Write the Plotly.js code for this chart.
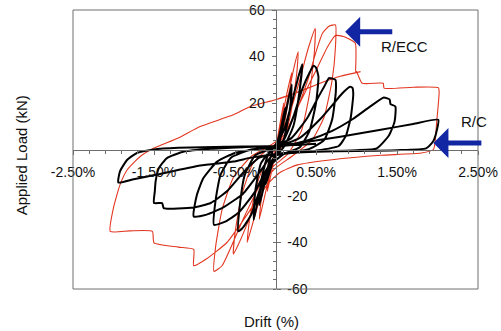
<!DOCTYPE html>
<html>
<head>
<meta charset="utf-8">
<script src="https://cdn.plot.ly/plotly-3.0.1.min.js"></script>
<style>html,body{margin:0;padding:0;background:#fff;}#chart{width:501px;height:331px;}</style>
</head>
<body>
<div id="chart"></div>
<script>
// R/ECC specimen hysteresis: [drift %, load kN]
var eccPoints = [
  [0,0],
  [0.05,10],[0.1,20],[0.08,14],[0.02,2],[-0.04,-8],[-0.1,-18],[-0.08,-12],[-0.02,-2],
  [0.06,10],[0.14,24],[0.2,33],[0.17,24],[0.08,6],[-0.04,-6],[-0.12,-18],[-0.2,-30],[-0.17,-20],[-0.08,-5],
  [0.04,6],[0.14,20],[0.22,34],[0.28,42],[0.26,32],[0.18,14],[0.06,0],[-0.08,-8],[-0.2,-22],[-0.3,-34],[-0.35,-40],[-0.32,-30],[-0.22,-14],[-0.08,-2],
  [0.05,4],[0.18,16],[0.3,30],[0.4,43],[0.49,52],[0.48,42],[0.42,24],[0.32,8],[0.15,-2],[-0.05,-8],[-0.2,-18],[-0.35,-32],[-0.46,-41],[-0.52,-45],[-0.5,-36],[-0.42,-20],[-0.28,-6],[-0.1,0],
  [0.1,5],[0.25,16],[0.4,30],[0.5,42],[0.58,50],[0.66,53],[0.74,53.6],[0.74,44],[0.7,30],[0.6,14],[0.45,4],[0.2,-3],[0,-8],[-0.2,-16],[-0.4,-30],[-0.55,-42],[-0.66,-50],[-0.76,-52.4],[-0.74,-42],[-0.66,-26],[-0.52,-12],[-0.3,-3],[-0.1,1],
  [0.1,6],[0.3,20],[0.5,34],[0.64,44],[0.74,49],[0.84,48.6],[0.985,45.7],[0.99,33],[1.0,33.5],[1.07,28.5],[1.33,28.5],[1.34,26.4],[1.7,26.8],[2.01,26.6],[2.02,25],[1.99,12],[1.95,0],[1.8,-1.5],[1.3,-2.5],[0.7,-4.4],[0.27,-6.6],[0.05,-10],[-0.1,-15],[-0.35,-28],[-0.6,-40],[-0.85,-47],[-1.01,-50],[-1.01,-43],[-1.2,-42],[-1.5,-40.2],[-1.52,-35.2],[-1.8,-35],[-2.04,-35.2],[-2.0,-25],[-1.92,-15.2],[-1.83,-8.7],[-1.67,-3],[-1.5,0.6],[-1.2,5],[-0.93,9.9],[-0.52,14.9],[-0.31,18.5],[0,21.4],[0.3,25],[0.55,28.5],[0.8,31.5],[1.05,33.5]
];
// R/C specimen hysteresis: [drift %, load kN]
var rcPoints = [
  [0,0],
  [0.06,8],[0.12,18],[0.1,12],[0.04,2],[-0.04,-6],[-0.12,-15],[-0.1,-9],[-0.04,-1],
  [0.05,5],[0.12,15],[0.2,28],[0.18,18],[0.1,4],[0,-3],[-0.1,-10],[-0.2,-24],[-0.18,-14],[-0.1,-3],
  [0,2],[0.1,8],[0.2,20],[0.28,31],[0.33,36.7],[0.3,26],[0.22,10],[0.1,1],[-0.05,-5],[-0.15,-14],[-0.23,-24],[-0.27,-30.2],[-0.25,-18],[-0.18,-6],[-0.05,0],
  [0.1,4],[0.22,14],[0.33,26],[0.42,33],[0.47,36],[0.5,35.2],[0.53,31.4],[0.5,20],[0.42,8],[0.3,1],[0.1,-2],[-0.1,-8],[-0.2,-18],[-0.3,-28],[-0.4,-33.5],[-0.46,-35.2],[-0.44,-24],[-0.38,-11],[-0.25,-2.5],[-0.05,0.5],
  [0.2,5],[0.4,14],[0.52,22],[0.6,27],[0.66,30.7],[0.7,30.5],[0.74,30],[0.745,25],[0.7,13],[0.6,4],[0.4,0],[0.1,-2],[-0.1,-8],[-0.25,-18],[-0.45,-27],[-0.62,-31],[-0.76,-32.4],[-0.74,-22],[-0.68,-11],[-0.55,-3.5],[-0.3,0],
  [0,1],[0.3,5],[0.55,13],[0.7,19],[0.82,24],[0.92,27],[0.95,26.5],[0.96,23.6],[0.93,14],[0.87,6],[0.78,1.5],[0.5,-0.5],[0.2,-1.5],[-0.05,-3],[-0.2,-10],[-0.4,-19],[-0.65,-25],[-0.85,-28],[-1.01,-28.8],[-0.97,-19.5],[-0.89,-12.3],[-0.72,-5.2],[-0.5,-1.5],[-0.2,0.3],
  [0.1,1.5],[0.4,4],[0.7,8],[0.95,13],[1.15,18],[1.33,22.3],[1.38,22],[1.41,21.5],[1.42,19.5],[1.48,18.5],[1.47,12],[1.4,6],[1.25,0.5],[1.0,-0.3],[0.5,-0.8],[0.1,-1.5],[-0.2,-3.5],[-0.4,-10],[-0.6,-18],[-0.8,-23],[-1.01,-24.9],[-1.38,-25.2],[-1.4,-23],[-1.5,-23],[-1.49,-18],[-1.48,-13.7],[-1.44,-8],[-1.34,-3.7],[-1.13,-0.9],[-0.8,0.3],[-0.4,1],
  [0,1.5],[0.31,2.9],[0.8,5.5],[1.3,8.5],[1.7,11],[2.01,12.8],[1.99,8],[1.96,4.5],[1.93,2.7],[1.86,0.5],[1.5,-0.3],[1.0,-0.6],[0.5,-1],[0,-2],[-0.3,-3.5],[-0.52,-5.2],[-0.93,-6.9],[-1.48,-10.9],[-1.75,-12.8],[-1.94,-14.2],[-1.92,-9.4],[-1.83,-4.4],[-1.71,-1.5],[-1.5,0],[-1.2,0.7],[-0.6,1.2],[0,1.5],[0.5,2.5]
];
var xTickVals = [-2.5,-1.5,-0.5,0.5,1.5,2.5];
var xTickText = ['-2.50%','-1.50%','-0.50%','0.50%','1.50%','2.50%'];
var yPosTickVals = [20,40,60];
var yPosTickText = ['20','40','60'];
var yNegTickVals = [-60,-40,-20];
var yNegTickText = ['-60','-40','-20'];
var seriesLabels = ['R/ECC','R/C'];
var xTitle = 'Drift (%)';
var yTitle = 'Applied Load (kN)';

var FONT = 'Arial, "Liberation Sans", sans-serif';
var AXC = '#6e6e6e';
var traces = [
  {x: eccPoints.map(function(p){return p[0];}), y: eccPoints.map(function(p){return p[1];}),
   mode:'lines', line:{color:'#e2361f', width:1.1, shape:'spline', smoothing:0.5}, name:seriesLabels[0], showlegend:false, hoverinfo:'skip'},
  {x: rcPoints.map(function(p){return p[0];}), y: rcPoints.map(function(p){return p[1];}),
   mode:'lines', line:{color:'#000000', width:2, shape:'spline', smoothing:0.5}, name:seriesLabels[1], showlegend:false, hoverinfo:'skip'},
  {x:[null], y:[null], yaxis:'y2', mode:'lines', showlegend:false, hoverinfo:'skip'}
];
var layout = {
  width:501, height:331,
  margin:{l:73, r:23, t:10, b:42},
  paper_bgcolor:'#fff', plot_bgcolor:'#fff',
  font:{family:FONT, size:14, color:'#111'},
  showlegend:false,
  xaxis:{range:[-2.5,2.5], anchor:'free', position:0.5, showline:true, linecolor:AXC, linewidth:1,
    showgrid:false, zeroline:false, tickmode:'array', tickvals:xTickVals, ticktext:xTickText,
    ticks:'outside', ticklen:4, tickcolor:AXC, ticklabelstandoff:6,
    minor:{tick0:-2.5, dtick:0.2, ticks:'outside', ticklen:3, tickcolor:AXC, showgrid:false}},
  yaxis:{range:[-60,60], anchor:'free', position:0.5, side:'left', showline:true, linecolor:AXC, linewidth:1,
    showgrid:false, zeroline:false, tickmode:'array', tickvals:yPosTickVals, ticktext:yPosTickText,
    ticks:'outside', ticklen:4, tickcolor:AXC, ticklabelstandoff:4,
    minor:{tick0:-60, dtick:4, ticks:'outside', ticklen:3, tickcolor:AXC, showgrid:false}},
  yaxis2:{range:[-60,60], overlaying:'y', anchor:'free', position:0.5, side:'right', showline:false,
    showgrid:false, zeroline:false, tickmode:'array', tickvals:yNegTickVals, ticktext:yNegTickText,
    ticks:'outside', ticklen:4, tickcolor:AXC, ticklabelstandoff:4},
  shapes:[{type:'rect', xref:'paper', yref:'paper', x0:0, x1:1, y0:0, y1:1, line:{color:AXC, width:1}}],
  annotations:[
    {xref:'paper', yref:'paper', x:-0.128, y:0.48, text:yTitle, textangle:-90, showarrow:false, font:{size:15, color:'#111'}, xanchor:'center', yanchor:'middle'},
    {xref:'paper', yref:'paper', x:0.49, y:-0.117, text:xTitle, showarrow:false, font:{size:15, color:'#111'}, xanchor:'center', yanchor:'middle'},
    {xref:'x', yref:'y', x:1.596, y:44.3, text:seriesLabels[0], showarrow:false, font:{size:15, color:'#111'}},
    {xref:'x', yref:'y', x:2.455, y:12.0, text:seriesLabels[1], showarrow:false, font:{size:15, color:'#111'}},
    {xref:'x', yref:'y', axref:'x', ayref:'y', x:0.86, y:50.6, ax:1.46, ay:50.6, text:'', showarrow:true, arrowhead:1, arrowsize:1.0, arrowwidth:5, arrowcolor:'#1226a3'},
    {xref:'x', yref:'y', axref:'x', ayref:'y', x:1.95, y:2.75, ax:2.56, ay:2.75, text:'', showarrow:true, arrowhead:1, arrowsize:1.0, arrowwidth:5, arrowcolor:'#1226a3'}
  ]
};
Plotly.newPlot('chart', traces, layout, {staticPlot:true, displayModeBar:false});
</script>
</body>
</html>
